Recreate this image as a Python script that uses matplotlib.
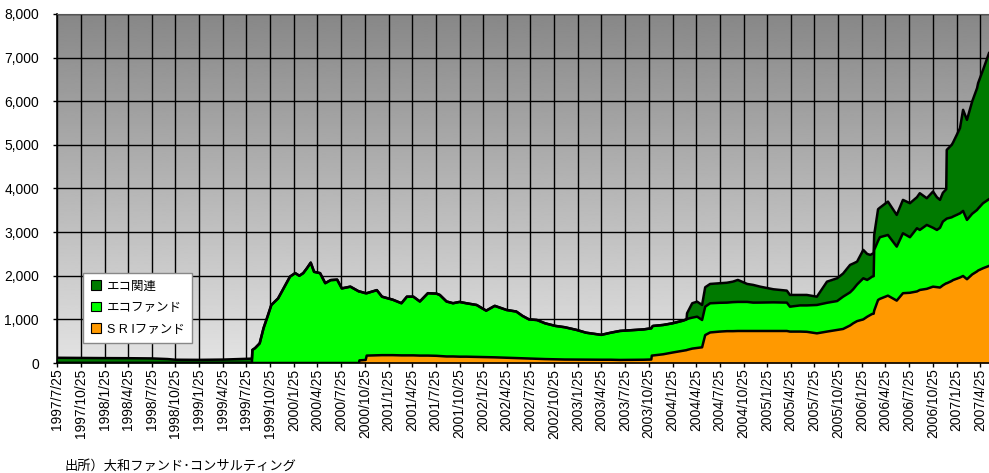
import matplotlib
matplotlib.use("Agg")
import matplotlib.pyplot as plt
import matplotlib.dates as mdates
from matplotlib.patches import Patch
import numpy as np
from datetime import datetime

plt.rcParams['font.family'] = ['Liberation Sans', 'Noto Sans CJK JP', 'DejaVu Sans']

dates = [
    "1997-07-25", "1997-10-25", "1998-01-25", "1998-04-25", "1998-07-25", "1998-09-25",
    "1998-10-25", "1999-01-25", "1999-04-25", "1999-07-25", "1999-08-16", "1999-08-18",
    "1999-08-28", "1999-09-15", "1999-09-30", "1999-10-15", "1999-10-30", "1999-11-25",
    "1999-12-20", "2000-01-10", "2000-01-30", "2000-02-15", "2000-03-01", "2000-03-15",
    "2000-03-30", "2000-04-12", "2000-05-05", "2000-05-25", "2000-06-15", "2000-07-10",
    "2000-07-28", "2000-08-30", "2000-10-02", "2000-10-04", "2000-10-28", "2000-11-01",
    "2000-12-10", "2000-12-30", "2001-02-10", "2001-03-15", "2001-04-05", "2001-04-30",
    "2001-05-25", "2001-06-25", "2001-07-28", "2001-08-10", "2001-09-05", "2001-09-30",
    "2001-10-25", "2001-11-20", "2001-12-30", "2002-02-05", "2002-03-10", "2002-04-25",
    "2002-06-01", "2002-06-25", "2002-07-20", "2002-08-20", "2002-09-20", "2002-10-30",
    "2002-12-05", "2003-01-20", "2003-02-25", "2003-04-25", "2003-06-01", "2003-07-06",
    "2003-09-01", "2003-10-05", "2003-11-04", "2003-11-06", "2003-11-10", "2003-12-20",
    "2004-01-25", "2004-03-05", "2004-03-19", "2004-03-21", "2004-04-10", "2004-04-29",
    "2004-05-18", "2004-05-30", "2004-06-18", "2004-07-25", "2004-08-22", "2004-09-14",
    "2004-10-03", "2004-11-08", "2004-12-01", "2004-12-28", "2005-02-17", "2005-04-10",
    "2005-04-22", "2005-05-31", "2005-06-26", "2005-08-04", "2005-09-12", "2005-10-21",
    "2005-11-13", "2005-12-10", "2005-12-22", "2006-01-06", "2006-01-30", "2006-02-14",
    "2006-02-26", "2006-03-05", "2006-03-11", "2006-03-13", "2006-03-28", "2006-04-04",
    "2006-05-05", "2006-06-08", "2006-07-02", "2006-07-29", "2006-08-25", "2006-09-05",
    "2006-10-02", "2006-10-26", "2006-11-10", "2006-11-22", "2006-12-03", "2006-12-16",
    "2006-12-18", "2007-01-06", "2007-01-11", "2007-02-07", "2007-02-19", "2007-03-06",
    "2007-03-26", "2007-04-14", "2007-04-18", "2007-05-07", "2007-05-30",
]

sri_fund = [
    0, 0, 0, 0, 0, 0,
    0, 0, 0, 0, 0, 0,
    0, 0, 0, 0, 0, 0,
    0, 0, 0, 0, 0, 0,
    0, 0, 0, 0, 0, 0,
    0, 0, 0, 60, 70, 170,
    175, 180, 180, 175, 175, 175,
    170, 170, 165, 160, 150, 150,
    145, 145, 140, 135, 130, 120,
    110, 105, 100, 95, 90, 85,
    80, 78, 75, 75, 75, 70,
    72, 75, 80, 170, 172, 200,
    240, 280, 295, 300, 330, 345,
    360, 640, 700, 720, 730, 730,
    734, 734, 734, 734, 734, 734,
    720, 720, 715, 680, 720, 757,
    780, 860, 910, 960, 1000, 1060,
    1100, 1124, 1130, 1200, 1445, 1470,
    1544, 1430, 1600, 1610, 1640, 1674,
    1700, 1750, 1740, 1730, 1780, 1827,
    1827, 1880, 1900, 1960, 1995, 1920,
    2030, 2100, 2120, 2172, 2225,
]

eco_fund = [
    0, 0, 0, 0, 0, 0,
    0, 0, 0, 0, 0, 300,
    340, 450, 800, 1060, 1330, 1480,
    1750, 1980, 2060, 2000, 2060, 2170,
    2300, 2090, 2060, 1830, 1900, 1910,
    1710, 1750, 1640, 1580, 1530, 1430,
    1495, 1340, 1270, 1195, 1345, 1345,
    1240, 1430, 1425, 1400, 1260, 1220,
    1255, 1225, 1190, 1065, 1180, 1095,
    1070, 975, 900, 890, 820, 765,
    740, 680, 620, 570, 620, 665,
    685, 695, 715, 650, 677, 672,
    670, 690, 705, 710, 710, 717,
    626, 651, 669, 660, 654, 665,
    666, 666, 650, 651, 656, 650,
    571, 600, 605, 650, 660, 663,
    740, 760, 780, 840, 942, 844,
    850, 856, 860, 1392, 1355, 1413,
    1391, 1238, 1374, 1273, 1449, 1376,
    1465, 1350, 1310, 1370, 1461, 1473,
    1483, 1460, 1456, 1470, 1491, 1360,
    1390, 1409, 1420, 1491, 1530,
]

eco_related = [
    120, 115, 112, 110, 105, 90,
    75, 72, 78, 95, 100, 0,
    0, 0, 0, 0, 0, 0,
    0, 0, 0, 0, 0, 0,
    0, 0, 0, 0, 0, 0,
    0, 0, 0, 0, 0, 0,
    0, 0, 0, 0, 0, 0,
    0, 0, 0, 0, 0, 0,
    0, 0, 0, 0, 0, 0,
    0, 0, 0, 0, 0, 0,
    0, 0, 0, 0, 0, 0,
    0, 0, 0, 0, 0, 0,
    0, 0, 0, 130, 330, 344,
    344, 445, 443, 447, 456, 470,
    504, 412, 406, 365, 300, 275,
    269, 240, 240, 190, 485, 522,
    530, 628, 590, 523, 650, 596,
    527, 520, 530, 343, 725, 677,
    765, 726, 765, 780, 711, 842,
    612, 830, 750, 639, 659, 683,
    1575, 1660, 1694, 1952, 2317, 2293,
    2573, 2791, 2875, 3057, 3348,
]

tick_labels = [
    "1997/7/25", "1997/10/25", "1998/1/25", "1998/4/25", "1998/7/25", "1998/10/25",
    "1999/1/25", "1999/4/25", "1999/7/25", "1999/10/25", "2000/1/25", "2000/4/25",
    "2000/7/25", "2000/10/25", "2001/1/25", "2001/4/25", "2001/7/25", "2001/10/25",
    "2002/1/25", "2002/4/25", "2002/7/25", "2002/10/25", "2003/1/25", "2003/4/25",
    "2003/7/25", "2003/10/25", "2004/1/25", "2004/4/25", "2004/7/25", "2004/10/25",
    "2005/1/25", "2005/4/25", "2005/7/25", "2005/10/25", "2006/1/25", "2006/4/25",
    "2006/7/25", "2006/10/25", "2007/1/25", "2007/4/25",
]

legend_labels = ["エコ関連", "エコファンド", "S R Iファンド"]
colors = {"rel": "#007a00", "fund": "#00ff00", "sri": "#ff9900"}

x = mdates.date2num([datetime.strptime(d, "%Y-%m-%d") for d in dates])
sri = np.array(sri_fund, float)
fund = np.array(eco_fund, float)
rel = np.array(eco_related, float)
b1 = sri
b2 = sri + fund
b3 = sri + fund + rel

fig = plt.figure(figsize=(9.89, 4.73), dpi=100)
ax = fig.add_axes([57 / 989, 1 - 363 / 473, 932 / 989, 349 / 473])

# gradient background: dark at top, light at bottom
grad = np.linspace(0.53, 0.89, 256).reshape(-1, 1)
ax.imshow(grad, extent=[0, 1, 0, 1], origin='upper', transform=ax.transAxes,
          aspect='auto', cmap='gray', vmin=0, vmax=1, zorder=0,
          interpolation='bilinear')

ax.fill_between(x, 0, b1, color=colors["sri"], lw=0, zorder=2)
ax.fill_between(x, b1, b2, color=colors["fund"], lw=0, zorder=2)
ax.fill_between(x, b2, b3, color=colors["rel"], lw=0, zorder=2)
for b in (b1, b2, b3):
    ax.plot(x, b, color="black", lw=1.8, zorder=3, solid_joinstyle='round')

tick_x = mdates.date2num([datetime.strptime(t, "%Y/%m/%d") for t in tick_labels])
ax.set_xticks(tick_x)
ax.set_xticklabels(tick_labels, rotation=90, fontsize=10)
ax.set_yticks(np.arange(0, 8001, 1000))
ax.set_yticklabels([f"{v:,}" for v in range(0, 8001, 1000)], fontsize=10)
ax.set_xlim(x[0], x[-1])
ax.set_ylim(0, 8000)

ax.grid(True, color="black", lw=1.0, zorder=1)
ax.set_axisbelow(True)
ax.tick_params(axis='x', direction='inout', length=6, width=1, pad=1)
ax.tick_params(axis='y', direction='out', length=3, width=1, pad=10)
for s in ("left", "bottom"):
    ax.spines[s].set_color("black")
    ax.spines[s].set_linewidth(1.2)
ax.spines["top"].set_color("#555555")
ax.spines["right"].set_visible(False)

handles = [Patch(facecolor=colors["rel"], edgecolor="black", lw=0.8),
           Patch(facecolor=colors["fund"], edgecolor="black", lw=0.8),
           Patch(facecolor=colors["sri"], edgecolor="black", lw=0.8)]
leg = ax.legend(handles, legend_labels, loc="lower left",
                bbox_to_anchor=((83 - 57) / 932, (363 - 343) / 349),
                fancybox=False, framealpha=1, edgecolor="#888888",
                fontsize=9, handlelength=0.8, handleheight=0.8,
                handletextpad=0.5, labelspacing=0.75, borderpad=0.6,
                borderaxespad=0)
leg.get_frame().set_linewidth(1.0)
leg.set_zorder(5)

fig.text(65 / 989, 1 - 466 / 473, "出所）大和ファンド･コンサルティング",
         fontsize=9.5, family=['Noto Sans CJK JP', 'DejaVu Sans'], va='center', ha='left')

fig.savefig("out.png", dpi=100)
